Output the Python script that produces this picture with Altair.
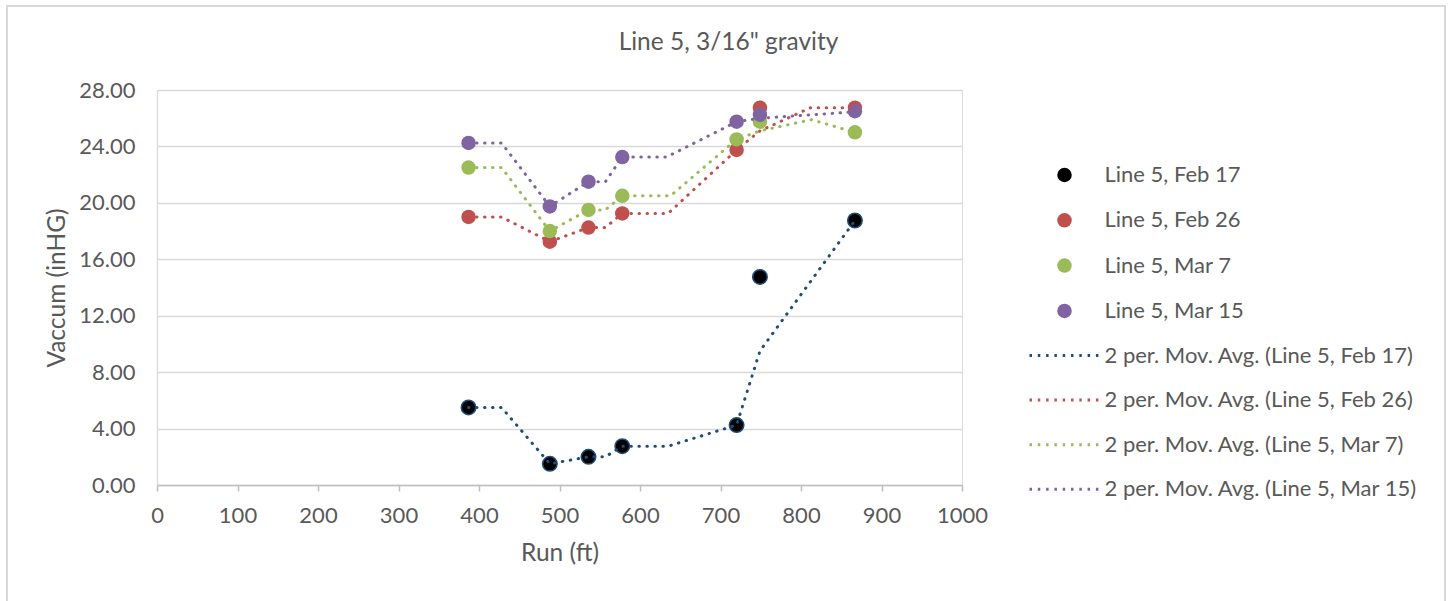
import altair as alt
import pandas as pd

# ---- data ----
run_ft = [387, 488, 536, 578, 720, 749, 867]
series_names = ["Line 5, Feb 17", "Line 5, Feb 26", "Line 5, Mar 7", "Line 5, Mar 15"]
feb17 = [5.5, 1.5, 2.0, 2.75, 4.25, 14.75, 18.75]
feb26 = [19.0, 17.25, 18.25, 19.25, 23.75, 26.75, 26.75]
mar7 = [22.5, 18.0, 19.5, 20.5, 24.5, 25.75, 25.0]
mar15 = [24.25, 19.75, 21.5, 23.25, 25.75, 26.25, 26.5]

# trendline (2 per. moving average) vertices as drawn in the reference
tr_feb17_x = [387, 428, 488, 536, 557, 578, 635, 720, 749, 867]
tr_feb17_y = [5.5, 5.5, 1.5, 2.0, 2.0, 2.75, 2.75, 4.25, 9.5, 18.75]
tr_feb26_x = [387, 428, 488, 536, 557, 578, 635, 720, 749, 812, 867]
tr_feb26_y = [19.0, 19.0, 17.25, 18.25, 18.25, 19.25, 19.25, 23.75, 25.1, 26.75, 26.75]
tr_mar7_x = [387, 428, 488, 536, 557, 578, 638, 720, 749, 813, 867]
tr_mar7_y = [22.5, 22.5, 18.0, 19.5, 19.5, 20.5, 20.5, 24.5, 25.1, 25.9, 25.0]
tr_mar15_x = [387, 428, 488, 536, 557, 578, 633, 720, 749, 867]
tr_mar15_y = [24.25, 24.25, 19.75, 21.5, 21.5, 23.25, 23.25, 25.75, 26.0, 26.45]

trend_names = ["2 per. Mov. Avg. (" + s + ")" for s in series_names]
chart_title = "Line 5, 3/16\" gravity"

point_fill = ["#000000", "#C0504D", "#9BBB59", "#8064A2"]
trend_colors = ["#1F4E79", "#C0504D", "#9BBB59", "#8064A2"]

FONT = "Lato"
TXT = "#595959"

# ---- tables ----
rows = []
for name, vals in zip(series_names, [feb17, feb26, mar7, mar15]):
    for x, y in zip(run_ft, vals):
        rows.append({"series": name, "run": x, "vac": y})
pts = pd.DataFrame(rows)

trows = []
for name, xs, ys in zip(trend_names,
                        [tr_feb17_x, tr_feb26_x, tr_mar7_x, tr_mar15_x],
                        [tr_feb17_y, tr_feb26_y, tr_mar7_y, tr_mar15_y]):
    for x, y in zip(xs, ys):
        trows.append({"trend": name, "run": x, "vac": y})
trend = pd.DataFrame(trows)

x_enc = alt.X("run:Q", scale=alt.Scale(domain=[0, 1000], nice=False),
              axis=alt.Axis(values=list(range(0, 1001, 100)), format="d",
                            title="Run (ft)", labelFlush=False,
                            grid=False, domainColor="#bfbfbf", domainWidth=1.5,
                            tickColor="#bfbfbf", tickWidth=1.5, tickSize=6,
                            labelPadding=14, labelFont=FONT, labelFontSize=22,
                            labelColor=TXT, titleFont=FONT, titleFontSize=24.5,
                            titleColor=TXT, titleFontWeight="normal",
                            titleY=68, titleBaseline="middle"))
y_enc = alt.Y("vac:Q", scale=alt.Scale(domain=[0, 28], nice=False),
              axis=alt.Axis(values=list(range(0, 29, 4)), format=".2f",
                            title="Vaccum (inHG)", grid=True, gridColor="#d9d9d9",
                            gridWidth=1.3, domainColor="#d9d9d9", domainWidth=1.3,
                            ticks=False, labelPadding=22, labelFont=FONT,
                            labelFlush=False,
                            labelFontSize=22, labelColor=TXT, titleFont=FONT,
                            titleFontSize=24.5, titleColor=TXT,
                            titleFontWeight="normal", titleX=-100, titleY=197.5,
                            titleAngle=270, titleBaseline="middle",
                            titleAlign="center"))

border = alt.Chart(pd.DataFrame({"b": [0]})).mark_rect(
    fill="transparent", stroke="#d9d9d9", strokeWidth=2
).encode(x=alt.value(-150), x2=alt.value(1288), y=alt.value(-84), y2=alt.value(530))

title = alt.Chart(pd.DataFrame({"t": [chart_title]})).mark_text(
    font=FONT, fontSize=24.5, color=TXT, align="center", baseline="middle"
).encode(text="t:N", x=alt.value(571.5), y=alt.value(-47))

points = alt.Chart(pts).mark_circle(size=210, opacity=1, strokeWidth=1.5).encode(
    x=x_enc,
    y=y_enc,
    fill=alt.Fill("series:N", scale=alt.Scale(domain=series_names, range=point_fill),
                  legend=alt.Legend(orient="none", legendX=896.5, legendY=74,
                                    title=None, padding=0, symbolType="circle",
                                    symbolSize=210, symbolStrokeWidth=0,
                                    labelFont=FONT, labelFontSize=22,
                                    labelColor=TXT, labelOffset=29,
                                    labelLimit=500, rowPadding=23.3)),
    stroke=alt.condition(alt.datum.series == "Line 5, Feb 17",
                         alt.value("#1F4E79"), alt.value("transparent")),
)

lines = alt.Chart(trend).mark_line(
    strokeDash=[0.5, 7.5], strokeCap="round", strokeWidth=3, interpolate="linear"
).encode(
    x="run:Q",
    y="vac:Q",
    stroke=alt.Stroke("trend:N", scale=alt.Scale(domain=trend_names, range=trend_colors),
                      legend=alt.Legend(orient="none", legendX=896.5, legendY=254.5,
                                        title=None, padding=0,
                                        symbolType="M-5,0H5", symbolSize=196,
                                        symbolStrokeWidth=3, symbolDash=[2.5, 5.8],
                                        symbolFillColor="transparent",
                                        labelFont=FONT, labelFontSize=22,
                                        labelColor=TXT, labelOffset=29,
                                        labelLimit=500, rowPadding=22.6)),
)

chart = alt.layer(border, title, points, lines).properties(
    width=805, height=395,
    autosize=alt.AutoSizeParams(type="none"),
    padding={"left": 157, "top": 90, "right": 493, "bottom": 116},
).resolve_scale(fill="independent", stroke="independent").configure_view(
    strokeWidth=0
).configure(background="white")

chart.save("out.html", embed_options={"renderer": "svg", "actions": False})
